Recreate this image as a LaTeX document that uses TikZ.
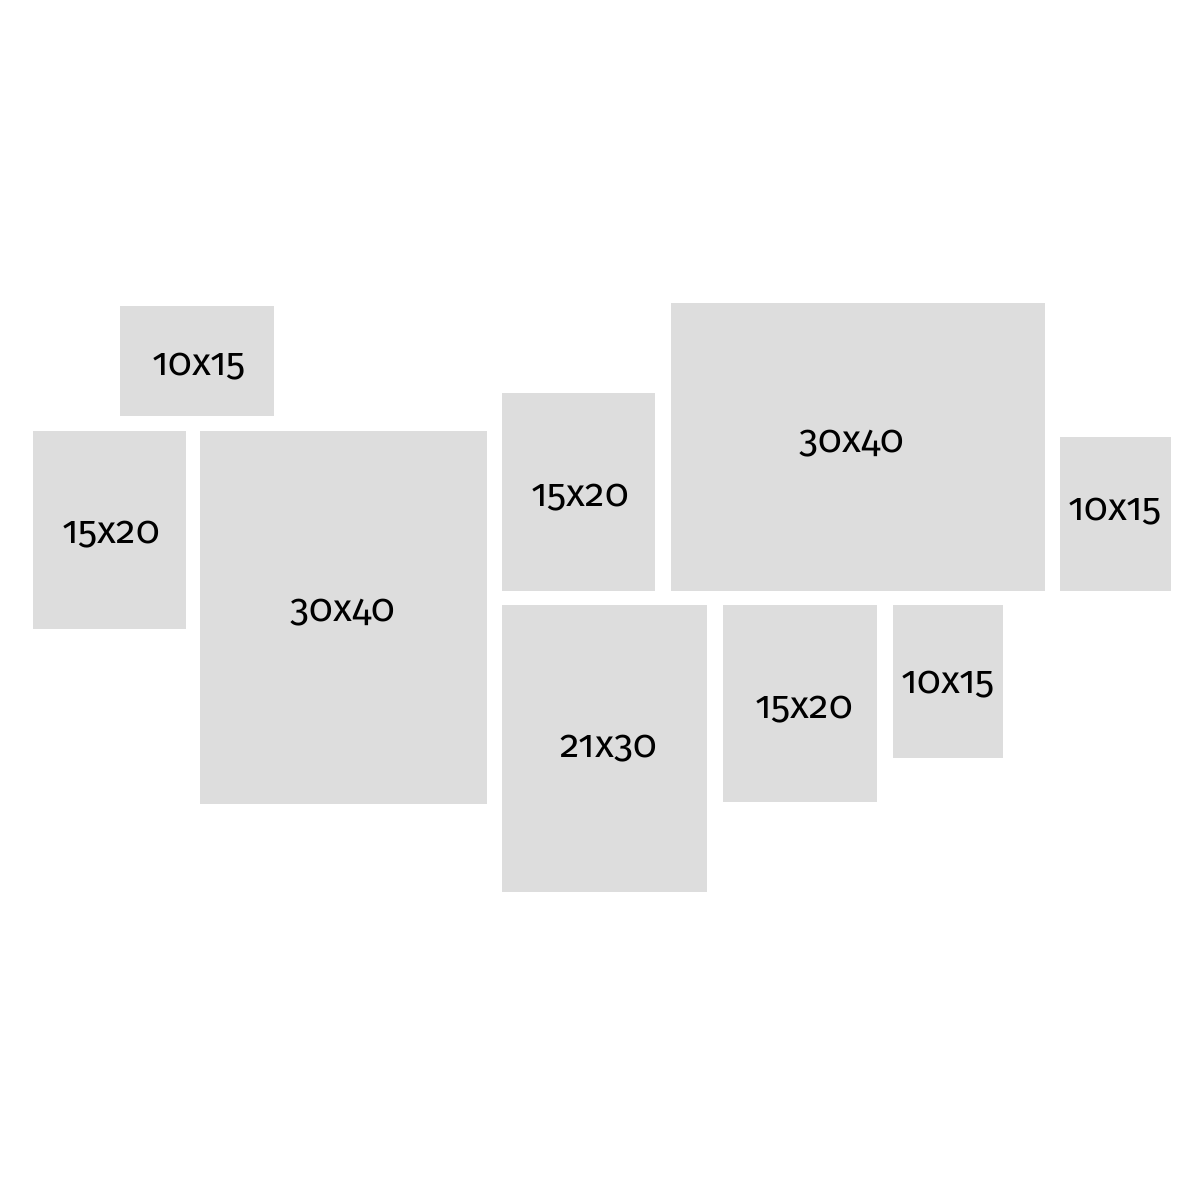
\documentclass[tikz,border=0pt]{standalone}
\usepackage{fontspec}
\setmainfont[Numbers=OldStyle]{Fira Sans}
\definecolor{framegray}{HTML}{DDDDDD}
\tikzset{
  frame/.style={fill=framegray, draw=none},
  size/.style={anchor=base, inner sep=0pt, font=\fontsize{19.5}{22}\selectfont, text=black}
}
\begin{document}
\begin{tikzpicture}[x=0.5pt, y=-0.5pt]
\useasboundingbox[fill=white] (0,0) rectangle (1200,1200);
% frames
\path[frame] (120,306) rectangle (274,416) coordinate (f1);
\path[frame] (33,431) rectangle (186,629) coordinate (f2);
\path[frame] (200,431) rectangle (487,804) coordinate (f3);
\path[frame] (502,393) rectangle (655,591) coordinate (f4);
\path[frame] (671,303) rectangle (1045,591) coordinate (f5);
\path[frame] (1060,437) rectangle (1171,591) coordinate (f6);
\path[frame] (502,605) rectangle (707,892) coordinate (f7);
\path[frame] (723,605) rectangle (877,802) coordinate (f8);
\path[frame] (893,605) rectangle (1003,758) coordinate (f9);
% labels
\node[size] (l1) at (199,375) {10x15};
\node[size] (l2) at (111,543) {15x20};
\node[size] (l3) at (343,621) {30x40};
\node[size] (l4) at (580,506) {15x20};
\node[size] (l5) at (852,452) {30x40};
\node[size] (l6) at (1115,520) {10x15};
\node[size] (l7) at (609,757) {21x30};
\node[size] (l8) at (804,718) {15x20};
\node[size] (l9) at (948,693) {10x15};
\end{tikzpicture}
\end{document}
